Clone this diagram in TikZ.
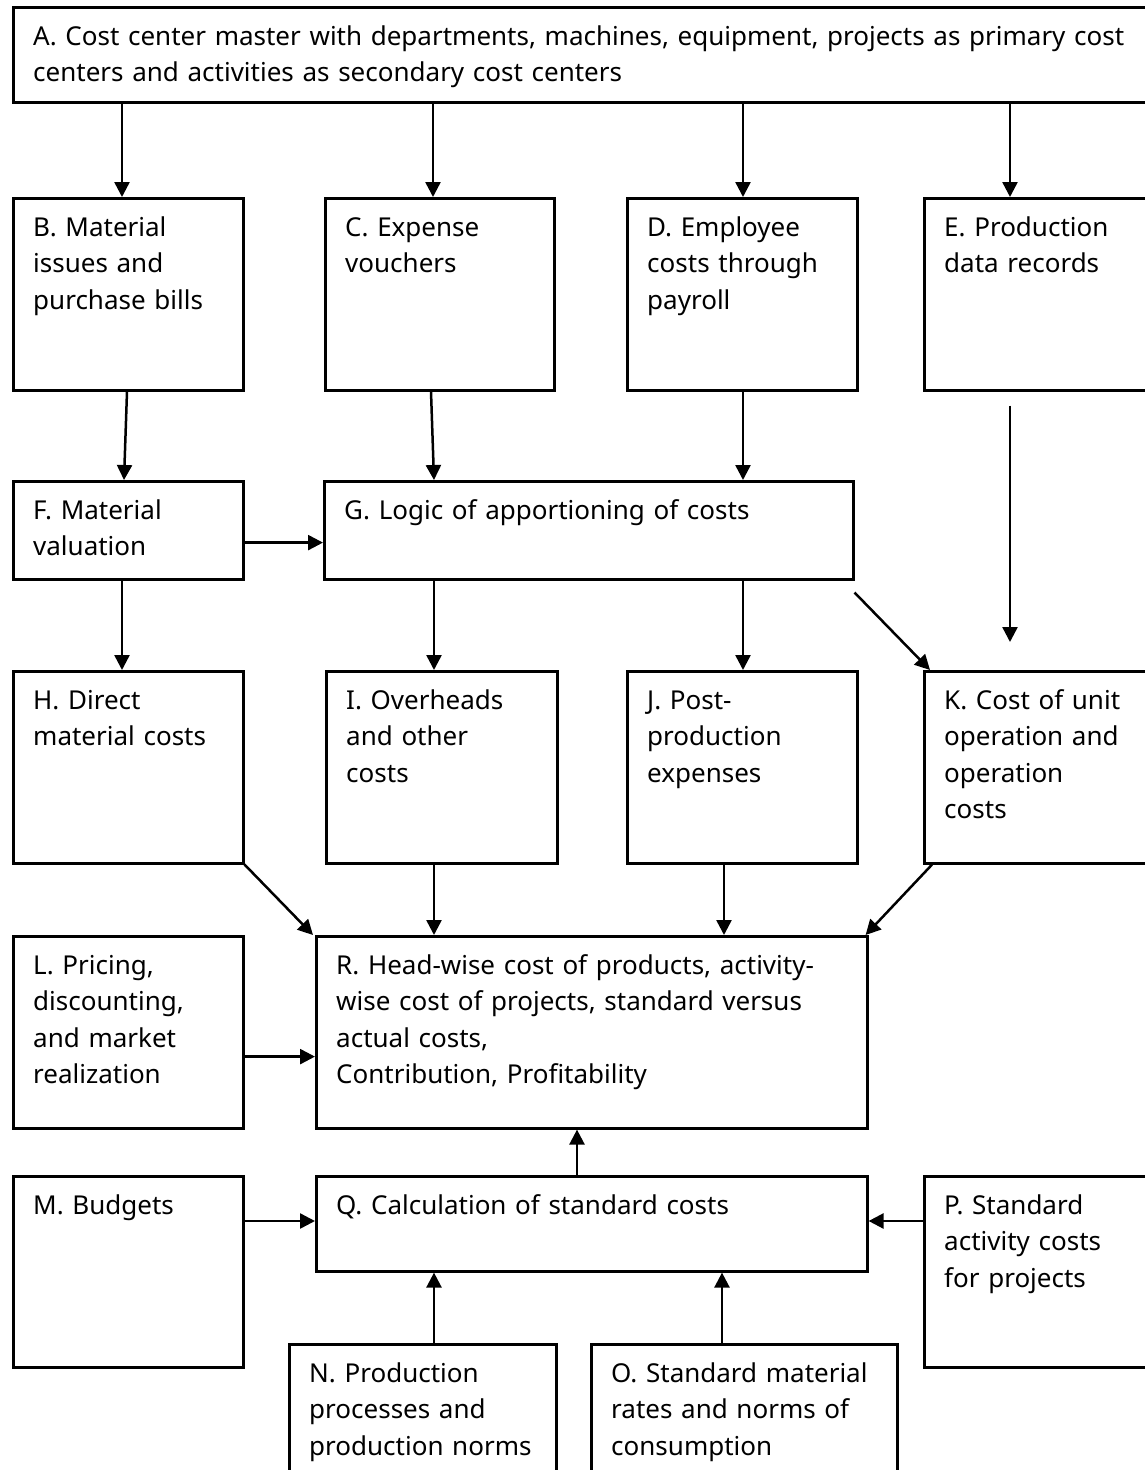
\documentclass[tikz,border=0pt]{standalone}
\usepackage{fontspec}
\setmainfont{Noto Sans}
\usetikzlibrary{arrows.meta,calc}

\tikzset{
  box/.style={draw, line width=2.6pt, inner sep=0pt, anchor=north west},
  txt/.style={inner sep=0pt, anchor=base west, align=left, text width=1120pt,
    font=\fontsize{26}{36.5}\selectfont},
  arr/.style={line width=2.5pt, -{Triangle[length=15pt,width=15pt]}},
}

% \costbox{name}{left}{top}{right}{bottom}{text}
\newcommand\costbox[6]{%
  \node[box, minimum width=#4-#2, minimum height=#5-#3] (#1) at (#2,#3) {};
  \node[txt] (#1txt) at ($(#1.north west)+(21,39)$) {#6};
}

\begin{document}
\begin{tikzpicture}[x=1pt,y=-1pt]
\useasboundingbox[fill=white] (0,0) rectangle (1145,1470);

% top master box
\costbox{A}{12}{6}{1165}{101}{A. Cost center master with departments, machines, equipment, projects as primary cost\\centers and activities as secondary cost centers}

% source documents
\costbox{B}{12}{197}{242}{389}{B. Material\\issues and\\purchase bills}
\costbox{C}{324}{197}{553}{389}{C. Expense\\vouchers}
\costbox{D}{626}{197}{856}{389}{D. Employee\\costs through\\payroll}
\costbox{E}{923}{197}{1165}{389}{E. Production\\data records}

% valuation and apportioning
\costbox{F}{12}{480}{242}{578}{F. Material\\valuation}
\costbox{G}{323}{480}{852}{578}{G. Logic of apportioning of costs}

% cost heads
\costbox{H}{12}{670}{242}{862}{H. Direct\\material costs}
\costbox{I}{325}{670}{556}{862}{I. Overheads\\and other\\costs}
\costbox{J}{626}{670}{856}{862}{J. Post-\\production\\expenses}
\costbox{K}{923}{670}{1165}{862}{K. Cost of unit\\operation and\\operation\\costs}

% results
\costbox{L}{12}{935}{242}{1127}{L. Pricing,\\discounting,\\and market\\realization}
\costbox{R}{315}{935}{866}{1127}{R. Head-wise cost of products, activity-\\wise cost of projects, standard versus\\actual costs,\\Contribution, Profitability}

% standards
\costbox{M}{12}{1175}{242}{1366}{M. Budgets}
\costbox{Q}{315}{1175}{866}{1270}{Q. Calculation of standard costs}
\costbox{P}{923}{1175}{1165}{1366}{P. Standard\\activity costs\\for projects}
\costbox{N}{288}{1343}{555}{1490}{N. Production\\processes and\\production norms}
\costbox{O}{590}{1343}{896}{1490}{O. Standard material\\rates and norms of\\consumption}

% A feeds the source documents
\draw[arr] ($(A.south west)+(110,0)$) -- ($(B.north west)+(110,0)$);
\draw[arr] ($(A.south west)+(421,0)$) -- ($(C.north west)+(109,0)$);
\draw[arr] ($(A.south west)+(731,0)$) -- ($(D.north west)+(117,0)$);
\draw[arr] ($(A.south west)+(998,0)$) -- ($(E.north west)+(87,0)$);

% source documents to valuation / apportioning
\draw[arr] ($(B.south west)+(115,0)$) -- ($(F.north west)+(112,0)$);
\draw[arr] ($(C.south west)+(107,0)$) -- ($(G.north west)+(111,0)$);
\draw[arr] ($(D.south west)+(117,0)$) -- ($(G.north west)+(420,0)$);
\draw[arr] ($(E.south west)+(87,14)$) -- ($(K.north west)+(87,-28)$);
\draw[arr] ($(F.south east)+(0,-38)$) -- ($(G.south west)+(0,-38)$);

% to cost heads
\draw[arr] ($(F.south west)+(110,0)$) -- ($(H.north west)+(110,0)$);
\draw[arr] ($(G.south west)+(111,0)$) -- ($(I.north west)+(109,0)$);
\draw[arr] ($(G.south west)+(420,0)$) -- ($(J.north west)+(117,0)$);
\draw[arr] ($(G.south east)+(0,12)$) -- ($(K.north west)+(7,0)$);

% cost heads into R
\draw[arr] (H.south east) -- ($(R.north west)+(-2,0)$);
\draw[arr] ($(I.south west)+(109,0)$) -- ($(R.north west)+(119,0)$);
\draw[arr] ($(J.south west)+(98,0)$) -- ($(R.north west)+(409,0)$);
\draw[arr] ($(K.south west)+(9,0)$) -- ($(R.north east)+(-3,0)$);
\draw[arr] ($(L.south east)+(0,-73)$) -- ($(R.south west)+(0,-73)$);

% standards
\draw[arr] ($(Q.north west)+(262,0)$) -- ($(R.south west)+(262,0)$);
\draw[arr] ($(M.north east)+(0,46)$) -- ($(Q.north west)+(0,46)$);
\draw[arr] ($(P.north west)+(0,46)$) -- ($(Q.north east)+(0,46)$);
\draw[arr] ($(N.north west)+(146,0)$) -- ($(Q.south west)+(119,0)$);
\draw[arr] ($(O.north west)+(132,0)$) -- ($(Q.south west)+(407,0)$);
\end{tikzpicture}
\end{document}
